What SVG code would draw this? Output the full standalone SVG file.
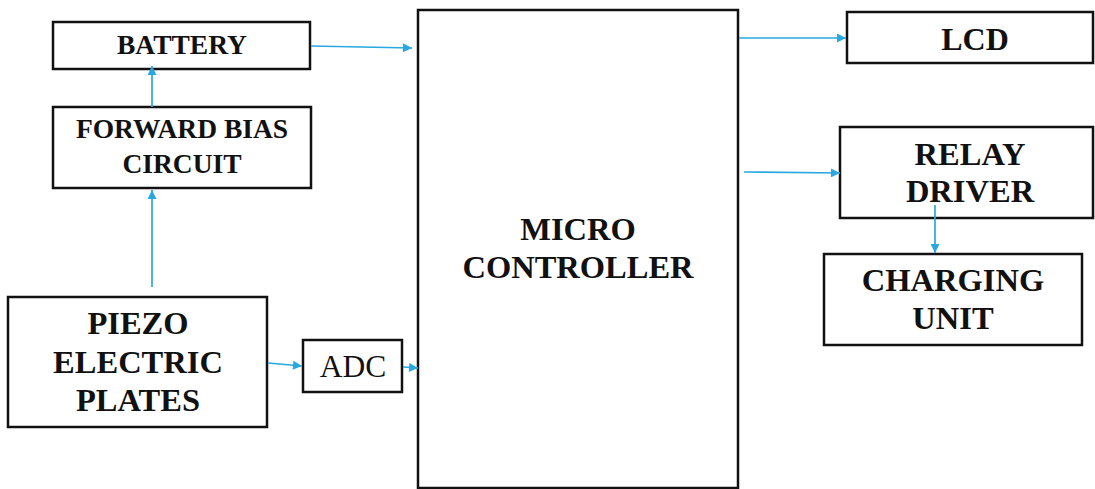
<svg xmlns="http://www.w3.org/2000/svg" width="1095" height="489" viewBox="0 0 1095 489">
<defs>
<style>
.box{fill:#fff;stroke:#111;stroke-width:2.5}
.t{font-family:"Liberation Serif","Times New Roman",serif;font-weight:bold;fill:#111;text-anchor:middle}
.n{font-family:"Liberation Serif","Times New Roman",serif;fill:#111;text-anchor:middle}
.c{stroke:#29a8e0;stroke-width:1.7;fill:none;marker-end:url(#ah)}
</style>
<marker id="ah" viewBox="0 0 10 10" refX="10" refY="5" markerWidth="10" markerHeight="9" markerUnits="userSpaceOnUse" orient="auto">
<path d="M0,0 L10,5 L0,10 z" fill="#29a8e0"/>
</marker>
</defs>
<rect width="1095" height="489" fill="#fff"/>
<g id="battery"><rect class="box" x="53" y="22" width="257" height="47"/><text class="t" x="182" y="54" font-size="27.5">BATTERY</text></g>
<g id="forward-bias"><rect class="box" x="53" y="107" width="258" height="81"/><text class="t" x="182" y="138" font-size="27.5">FORWARD BIAS</text><text class="t" x="182" y="173" font-size="27.5">CIRCUIT</text></g>
<g id="piezo"><rect class="box" x="8" y="297" width="259" height="130"/><text class="t" x="138" y="334" font-size="32.5">PIEZO</text><text class="t" x="138" y="373" font-size="32.5">ELECTRIC</text><text class="t" x="138" y="411" font-size="32.5">PLATES</text></g>
<g id="adc"><rect class="box" x="303" y="340" width="99" height="52"/><text class="n" x="353" y="377" font-size="31.5">ADC</text></g>
<g id="micro-controller"><rect class="box" x="418" y="10" width="320" height="478"/><text class="t" x="578" y="240" font-size="32.5">MICRO</text><text class="t" x="578" y="278" font-size="32.5">CONTROLLER</text></g>
<g id="lcd"><rect class="box" x="847" y="12" width="246" height="51"/><text class="t" x="975" y="50" font-size="32">LCD</text></g>
<g id="relay-driver"><rect class="box" x="840" y="127" width="253" height="91"/><text class="t" x="970" y="165" font-size="32.5">RELAY</text><text class="t" x="970" y="202" font-size="32.5">DRIVER</text></g>
<g id="charging-unit"><rect class="box" x="824" y="254" width="258" height="91"/><text class="t" x="953" y="291" font-size="32.5">CHARGING</text><text class="t" x="953" y="329" font-size="32.5">UNIT</text></g>
<g id="connectors">
<line class="c" x1="152" y1="107" x2="152" y2="66"/>
<line class="c" x1="152" y1="287" x2="152" y2="190"/>
<line class="c" x1="311" y1="46" x2="412" y2="48"/>
<line class="c" x1="268" y1="363" x2="302" y2="366"/>
<line class="c" x1="403" y1="367" x2="418" y2="368"/>
<line class="c" x1="739" y1="38" x2="846" y2="38"/>
<line class="c" x1="744" y1="172" x2="840" y2="173"/>
<line class="c" x1="935" y1="205" x2="935" y2="253"/>
</g>
</svg>
